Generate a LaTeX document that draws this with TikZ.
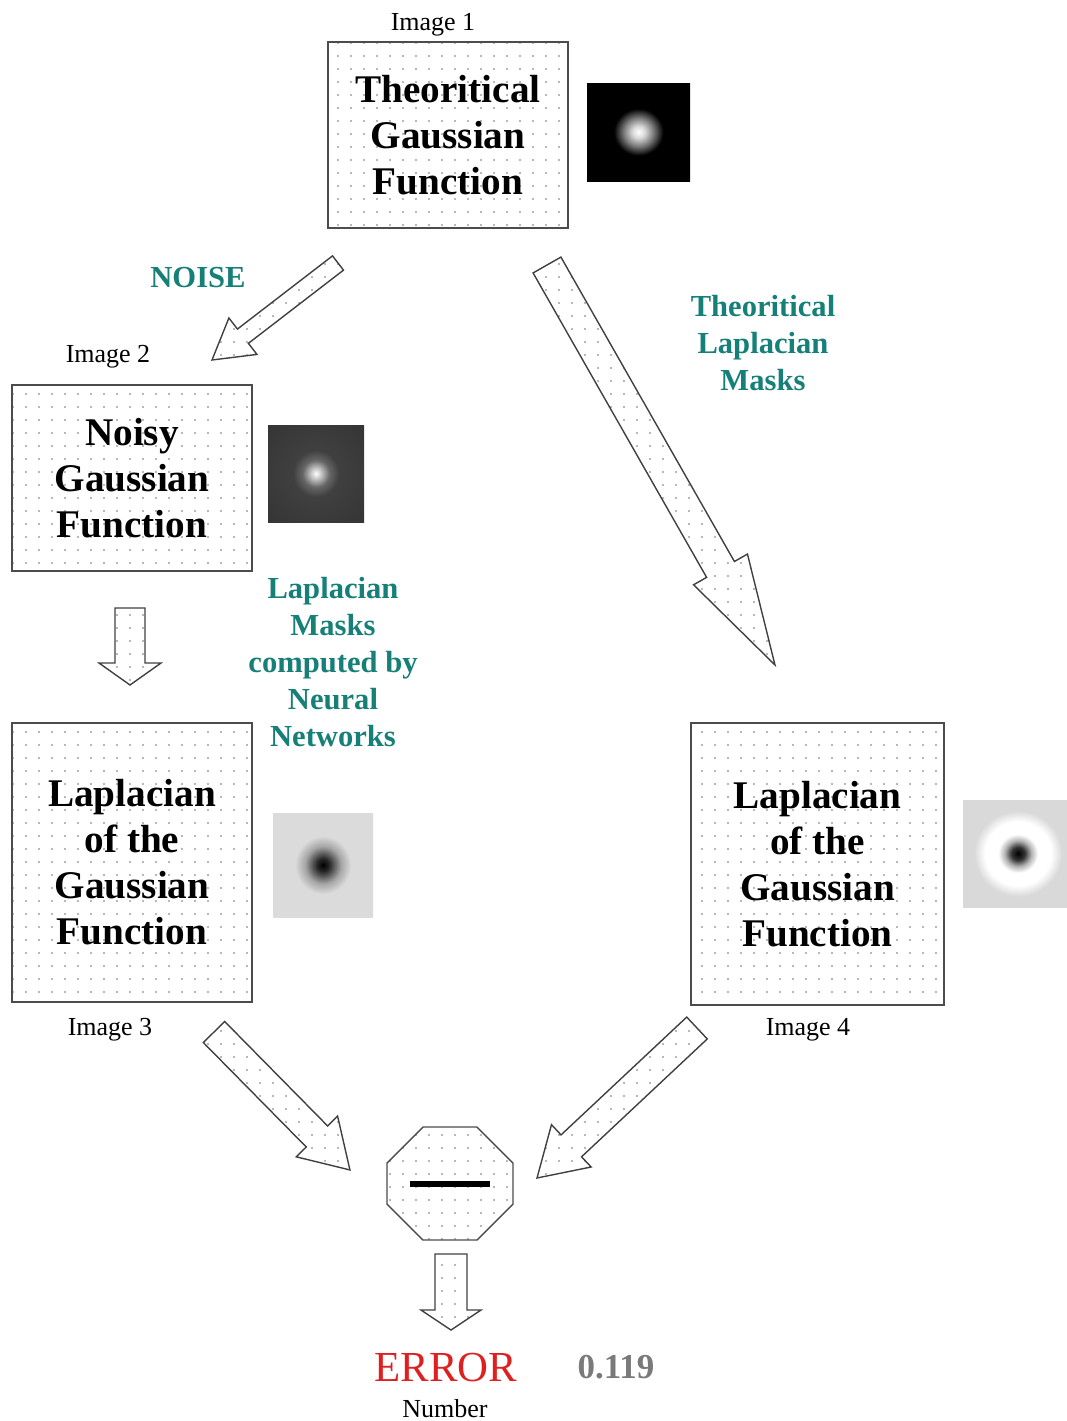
\documentclass[tikz,border=0pt]{standalone}
\usepackage{fontspec}
\setmainfont{Liberation Serif}
\usetikzlibrary{calc,positioning,patterns.meta,shapes.misc}

\definecolor{maskteal}{RGB}{22,128,120}
\definecolor{errred}{RGB}{222,32,32}
\definecolor{numgray}{RGB}{122,122,122}

\tikzdeclarepattern{
  name=paperdots,
  type=uncolored,
  bottom left={(-1pt,-1pt)},
  top right={(1pt,1pt)},
  tile size={(6.5pt,6.5pt)},
  code={\fill (0pt,0pt) circle (0.55pt);}
}

\pgfdeclareradialshading{gaussA}{\pgfpoint{0bp}{0bp}}{color(0bp)=(white); color(3bp)=(white!85!black); color(7bp)=(gray); color(12bp)=(black); color(50bp)=(black)}
\pgfdeclareradialshading{gaussB}{\pgfpoint{0bp}{0bp}}{color(0bp)=(white); color(3bp)=(white!75!black); color(7bp)=(gray!80!black); color(12bp)=(black!75); color(50bp)=(black!82)}
\pgfdeclareradialshading{gaussC}{\pgfpoint{0bp}{0bp}}{color(0bp)=(black); color(3bp)=(black!85); color(9bp)=(gray!70); color(14bp)=(gray!28); color(50bp)=(gray!28)}
\pgfdeclareradialshading{gaussD}{\pgfpoint{0bp}{0bp}}{color(0bp)=(black); color(3bp)=(black!80); color(6bp)=(gray!60); color(9bp)=(white); color(15bp)=(white); color(20bp)=(gray!30); color(50bp)=(gray!30)}

\tikzstyle{panel}    = [draw=black!70, line width=0.7pt, pattern=paperdots, pattern color=gray!75,
                        align=center, inner sep=0pt, font=\bfseries\fontsize{19.6}{23}\selectfont]
\tikzstyle{thumb}    = [inner sep=0pt, shade]
\tikzstyle{caption}  = [font=\fontsize{13}{15}\selectfont]
\tikzstyle{mask}     = [text=maskteal, align=center, font=\bfseries\fontsize{15.3}{18.5}\selectfont]
\tikzstyle{octo}     = [chamfered rectangle, draw=black!70, line width=0.7pt, pattern=paperdots,
                        pattern color=gray!75, minimum width=63pt, minimum height=56.5pt,
                        chamfered rectangle xsep=17.5pt, chamfered rectangle ysep=16.5pt, inner sep=0pt]
\tikzstyle{bigarrow} = [draw=black!75, line width=0.7pt, pattern=paperdots, pattern color=gray!75, line join=miter]

% tail, tip, half shaft, half head, head length
\newcommand{\blockarrow}[5]{
  \draw[bigarrow] let \p1=(#1), \p2=(#2),
      \n1={atan2(\y2-\y1,\x2-\x1)}, \n2={veclen(\x2-\x1,\y2-\y1)} in
    [shift={(#1)}, rotate=\n1]
    (0pt,-#3) -- ({\n2*1pt-#5},-#3) -- ({\n2*1pt-#5},-#4) -- ({\n2*1pt},0pt)
    -- ({\n2*1pt-#5},#4) -- ({\n2*1pt-#5},#3) -- (0pt,#3) -- cycle;
}

\begin{document}
\begin{tikzpicture}[x=0.5pt, y=-0.5pt]
  \useasboundingbox (0,0) rectangle (1067,1421);

  % panels
  \node[panel, minimum width=120pt, minimum height=93pt] (theo) at (448,135) {Theoritical\\Gaussian\\Function};
  \node[caption] (cap1) at (433,25) {Image 1};
  \node[panel, minimum width=120pt, minimum height=93pt] (noisy) at (132,478) {Noisy\\Gaussian\\Function};
  \node[caption] (cap2) at (108,357) {Image 2};
  \node[panel, minimum width=120pt, minimum height=139.5pt] (lapnn) at (132,862.5) {Laplacian\\of the\\Gaussian\\Function};
  \node[caption] (cap3) at (110,1030) {Image 3};
  \node[panel, minimum width=126.5pt, minimum height=141pt] (laptheo) at (817.5,864) {Laplacian\\of the\\Gaussian\\Function};
  \node[caption] (cap4) at (808,1030) {Image 4};

  % thumbnails
  \node[thumb, shading=gaussA, minimum width=51.5pt, minimum height=49pt] (img1) at (638.5,132) {};
  \node[thumb, shading=gaussB, minimum width=48pt, minimum height=48.5pt] (img2) at (316,473.5) {};
  \node[thumb, shading=gaussC, minimum width=50pt, minimum height=52pt] (img3) at (323,865) {};
  \node[thumb, shading=gaussD, minimum width=55pt, minimum height=53.5pt] (img4) at (1018,853.5) {};

  % difference and result
  \node[octo] (minus) at (450,1183.5) {\rule{40pt}{3pt}};
  \node[font=\fontsize{21.4}{24}\selectfont, text=errred] (err) at (446,1368) {ERROR};
  \node[font=\bfseries\fontsize{17.5}{20}\selectfont, text=numgray] (val) at (616,1367) {0.119};
  \node[caption] (num) at (445,1409) {Number};

  % labels on the arrows
  \node[mask] (noiselbl) at (198,278) {NOISE};
  \node[mask] (theolbl) at (763,343) {Theoritical\\Laplacian\\Masks};
  \node[mask] (nnlbl) at (333,662) {Laplacian\\Masks\\computed by\\Neural\\Networks};

  % arrows
  \coordinate (noiseT) at (338,263);  \coordinate (noiseH) at (212,360);
  \coordinate (theoT) at (547,265);   \coordinate (theoH) at (775,665);
  \coordinate (nnT) at (130,608);     \coordinate (nnH) at (130,685);
  \coordinate (leftT) at (214,1032);  \coordinate (leftH) at (350,1170);
  \coordinate (rightT) at (697,1028); \coordinate (rightH) at (537,1178);
  \coordinate (errT) at (451,1254);   \coordinate (errH) at (451,1330);

  \blockarrow{noiseT}{noiseH}{4.5pt}{11.5pt}{19.5pt}
  \blockarrow{theoT}{theoH}{8pt}{15.5pt}{55pt}
  \blockarrow{nnT}{nnH}{7.5pt}{15.5pt}{11pt}
  \blockarrow{leftT}{leftH}{7.5pt}{14.5pt}{23.5pt}
  \blockarrow{rightT}{rightH}{7.5pt}{14.5pt}{23.5pt}
  \blockarrow{errT}{errH}{8pt}{15pt}{10pt}
\end{tikzpicture}
\end{document}
